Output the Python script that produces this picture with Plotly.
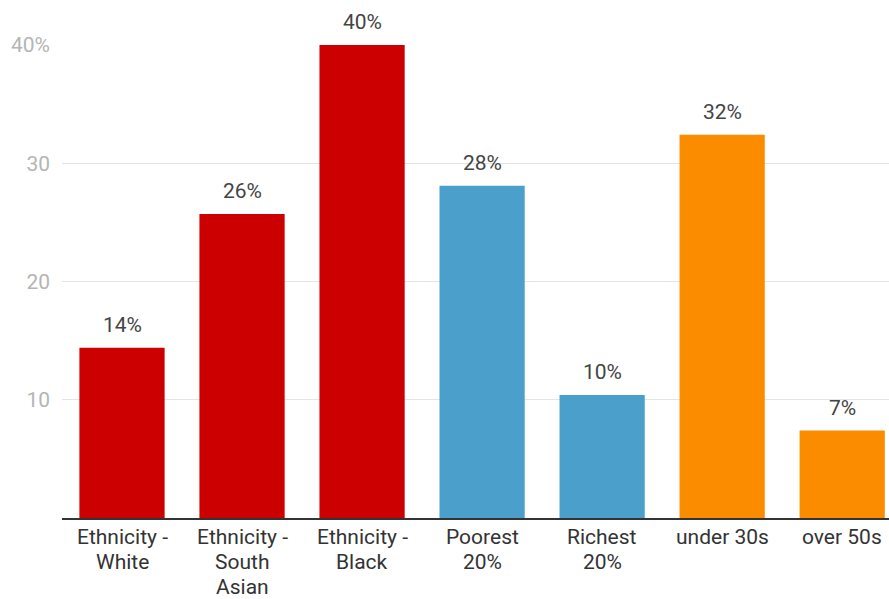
import plotly.graph_objects as go

categories = ["Ethnicity -<br>White", "Ethnicity -<br>South<br>Asian", "Ethnicity -<br>Black",
              "Poorest<br>20%", "Richest<br>20%", "under 30s", "over 50s"]
values = [14.4, 25.7, 40.0, 28.1, 10.4, 32.4, 7.4]
colors = ["#cc0000", "#cc0000", "#cc0000", "#4ba0cb", "#4ba0cb", "#fb8c00", "#fb8c00"]
ytick_vals = [10, 20, 30, 40]
ytick_text = ["10", "20", "30", "40%"]

FONT = "Roboto"
fig = go.Figure()
fig.add_trace(go.Bar(
    x=list(range(len(categories))), y=values, marker=dict(color=colors, line=dict(width=0)),
    hoverinfo="skip",
))
for i, v in enumerate(values):
    fig.add_annotation(x=i, y=v, text=f"{v:.0f}%", showarrow=False, yanchor="bottom",
                       yshift=9, font=dict(family=FONT, size=21, color="#444444"))

# category labels, one annotation per line for tight line spacing
for i, lab in enumerate(categories):
    for k, line in enumerate(lab.split("<br>")):
        fig.add_annotation(x=i, y=0, yref="y", text=line, showarrow=False, yanchor="top",
                           yshift=-(6 + 25 * k), borderpad=0,
                           font=dict(family=FONT, size=21, color="#333333"))

fig.update_layout(
    width=889, height=599,
    margin=dict(l=62, r=0, t=45, b=81),
    paper_bgcolor="white", plot_bgcolor="white",
    bargap=0.29, showlegend=False,
    font=dict(family=FONT, size=21, color="#333333"),
)
fig.update_xaxes(
    range=[-0.5, 6.39], tickmode="array", tickvals=list(range(len(categories))),
    showticklabels=False, showgrid=False, showline=True, linecolor="#333333", linewidth=1.5,
)
fig.update_yaxes(
    range=[0, 40], tickmode="array", tickvals=ytick_vals, ticktext=ytick_text,
    showgrid=True, gridcolor="#e4e4e4", gridwidth=1, zeroline=False,
    tickfont=dict(family=FONT, size=21, color="#b5b5b5"), ticklabelstandoff=11,
)
fig.write_html("out.html")
